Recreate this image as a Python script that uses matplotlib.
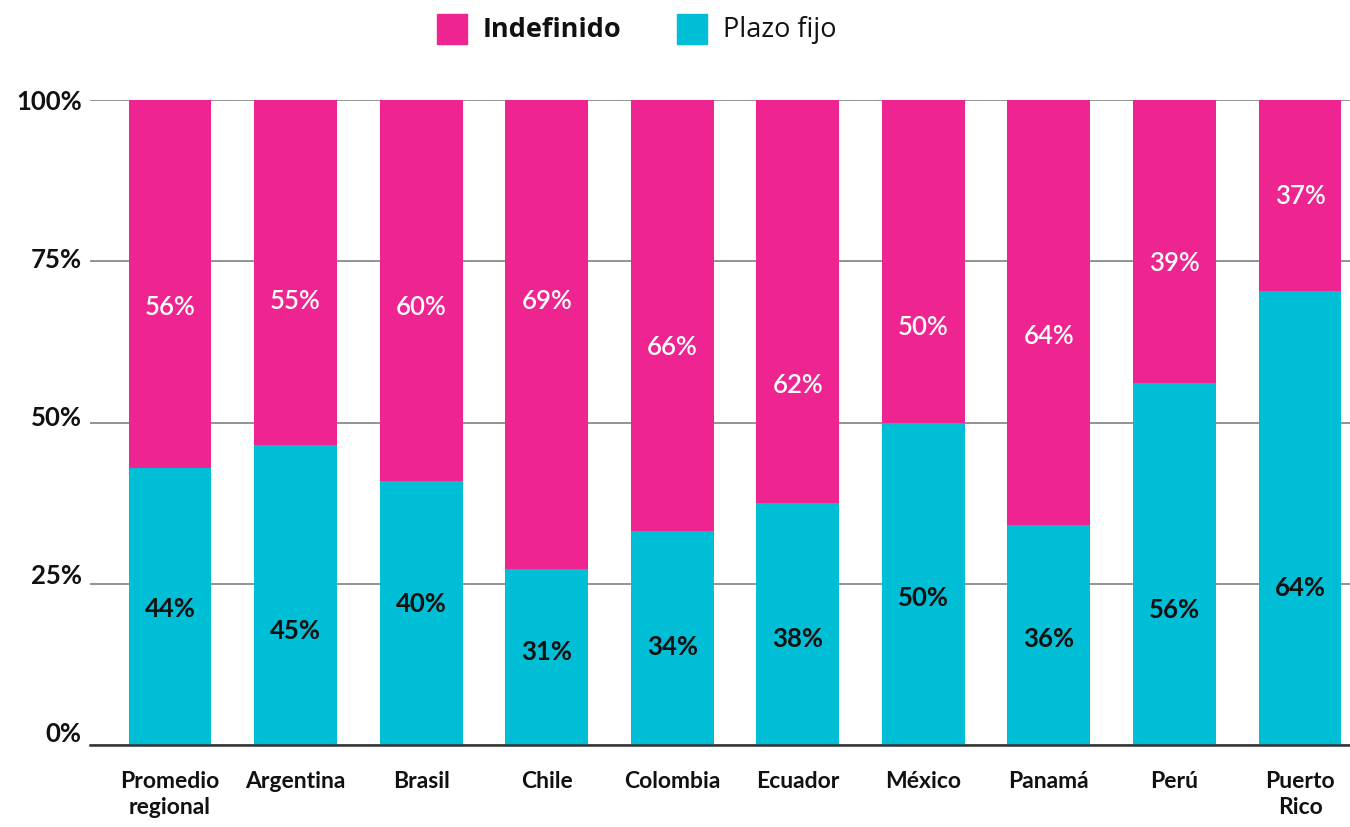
import matplotlib.pyplot as plt
from matplotlib.patches import Rectangle
from matplotlib.transforms import ScaledTranslation

# data
paises = ['Promedio\nregional', 'Argentina', 'Brasil', 'Chile', 'Colombia',
          'Ecuador', 'México', 'Panamá', 'Perú', 'Puerto\nRico']
plazo_fijo = [42.9, 46.5, 40.9, 27.3, 33.2, 37.5, 49.9, 34.1, 56.1, 70.4]
indefinido = [100 - v for v in plazo_fijo]
etiq_plazo = ['44%', '45%', '40%', '31%', '34%', '38%', '50%', '36%', '56%', '64%']
etiq_indef = ['56%', '55%', '60%', '69%', '66%', '62%', '50%', '64%', '39%', '37%']

# where the labels sit in the reference (y, percent units)
y_plazo = [21.1, 17.7, 21.9, 14.4, 15.2, 16.4, 22.8, 16.4, 20.9, 24.3]
y_indef = [67.9, 68.7, 67.9, 68.8, 61.7, 55.8, 64.8, 63.4, 74.6, 85.1]

ROSA = '#EE2590'
CIAN = '#00BED5'

plt.rcParams['font.family'] = ['Lato', 'DejaVu Sans']

fig = plt.figure(figsize=(13.5, 8.27), dpi=100)
ax = fig.add_axes([90/1350, 1 - 745/827, 1 - 90/1350, 645/827])

x = list(range(len(paises)))
ax.bar(x, plazo_fijo, width=0.66, color=CIAN, zorder=3)
ax.bar(x, indefinido, width=0.66, bottom=plazo_fijo, color=ROSA, zorder=3)

for i in x:
    ax.text(i, y_plazo[i], etiq_plazo[i], ha='center', va='center',
            fontsize=18.5, fontweight='bold', color='#111111', zorder=4)
    ax.text(i, y_indef[i], etiq_indef[i], ha='center', va='center',
            fontsize=18.5, fontweight='semibold', color='white', zorder=4)

ax.set_xlim(-0.637, 9.398)
ax.set_ylim(0, 100)
yt = [0, 25, 50, 75, 100]
ax.set_yticks(yt)
ax.set_yticklabels(['0%', '25%', '50%', '75%', '100%'])
ax.set_xticks(x)
ax.set_xticklabels(paises, linespacing=1.3)
ax.tick_params(axis='both', length=0)
ax.tick_params(axis='y', pad=6, labelsize=18.5)
ax.tick_params(axis='x', pad=19, labelsize=16.5)
for lab in ax.get_xticklabels() + ax.get_yticklabels():
    lab.set_fontweight('bold')
    lab.set_color('#111111')
# the lower y labels sit a bit above their gridlines in the reference
for v, lab in zip(yt, ax.get_yticklabels()):
    lab.set_transform(lab.get_transform() +
                      ScaledTranslation(0, (100 - v) / 100 * 0.13, fig.dpi_scale_trans))

ax.grid(axis='y', color='#8a8a8a', linewidth=1.3, zorder=0)
for s in ['top', 'right', 'left']:
    ax.spines[s].set_visible(False)
ax.spines['bottom'].set_color('#333333')
ax.spines['bottom'].set_linewidth(1.8)
ax.spines['bottom'].set_zorder(5)

# legend drawn by hand
fw, fh = 1350, 827
for x0, col, txt, w in [(437, ROSA, 'Indefinido', 'bold'), (677, CIAN, 'Plazo fijo', 'normal')]:
    fig.patches.append(Rectangle((x0/fw, 1 - 44/fh), 30/fw, 30/fh,
                                 transform=fig.transFigure, color=col))
    fig.text((x0 + 46)/fw, 1 - 30/fh, txt, ha='left', va='center',
             fontsize=19.5, fontweight=w, color='#111111',
             family=['Open Sans', 'DejaVu Sans'])

fig.savefig('out.png', dpi=100)
